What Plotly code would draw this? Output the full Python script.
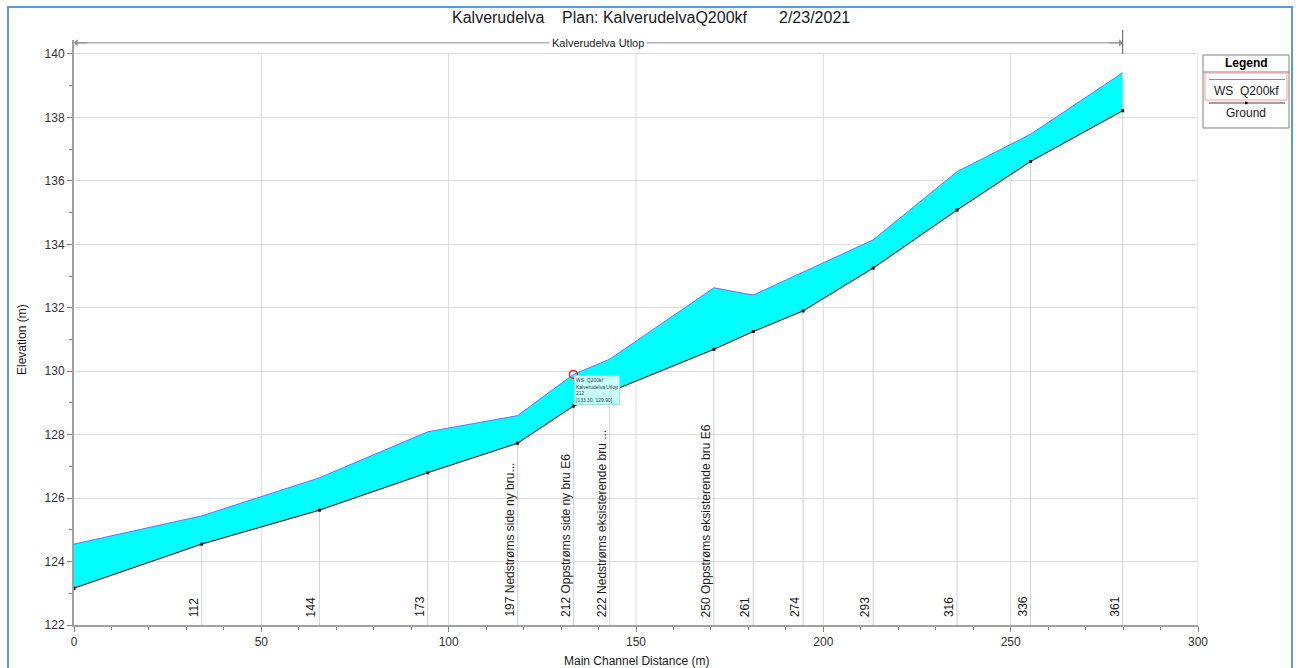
import plotly.graph_objects as go

# ---- data ----
stations = [0.0, 34.1, 65.5, 94.4, 118.4, 133.3, 143.0, 170.8, 181.3, 194.6, 213.3, 235.7, 255.3, 279.9]
section_labels = ["", "112", "144", "173", "197 Nedstrøms side ny bru...", "212 Oppstrøms side ny bru E6",
                  "222 Nedstrøms eksisterende bru ...", "250 Oppstrøms eksisterende bru E6",
                  "261", "274", "293", "316", "336", "361"]
ground = [123.16, 124.55, 125.62, 126.80, 127.73, 128.90, 129.35, 130.69, 131.25, 131.90, 133.25, 135.08, 136.61, 138.21]
ws = [124.55, 125.44, 126.64, 128.09, 128.60, 129.90, 130.38, 132.63, 132.40, 133.12, 134.14, 136.29, 137.47, 139.41]
x_ticks = [0, 50, 100, 150, 200, 250, 300]
y_ticks = [122, 124, 126, 128, 130, 132, 134, 136, 138, 140]
reach_name = "Kalverudelva Utlop"
river = "Kalverudelva"
plan = "Plan: KalverudelvaQ200kf"
date = "2/23/2021"
profile = "WS  Q200kf"
hover_idx = 5

W, H = 1301, 668
L, R, T, B = 74, 103, 40, 43
PW, PH = W - L - R, H - T - B
FONT = "Liberation Sans, Arial, sans-serif"


def px(x):
    return (x - L) / PW


def py(y):
    return (H - B - y) / PH


fig = go.Figure()

# section lines from ground down to axis
sx, sy = [], []
for s, g in zip(stations[1:], ground[1:]):
    sx += [s, s, None]
    sy += [y_ticks[0], g, None]
fig.add_trace(go.Scatter(x=sx, y=sy, mode="lines", line=dict(color="#d2d2d2", width=1),
                         hoverinfo="skip", showlegend=False))

# fill base
fig.add_trace(go.Scatter(x=stations, y=ground, mode="lines", line=dict(width=0),
                         hoverinfo="skip", showlegend=False))
fig.add_trace(go.Scatter(x=stations, y=ws, mode="lines", fill="tonexty", fillcolor="#00ffff",
                         line=dict(color="#7070ff", width=1), name=profile, showlegend=False))
fig.add_trace(go.Scatter(x=stations, y=ground, mode="lines+markers",
                         line=dict(color="#000000", width=1),
                         marker=dict(symbol="square", size=3, color="#000000"),
                         name="Ground", showlegend=False))
# highlighted point
fig.add_trace(go.Scatter(x=[stations[hover_idx]], y=[ws[hover_idx]], mode="markers",
                         marker=dict(symbol="circle-open", size=8, color="#ff2020", line=dict(width=1.5)),
                         showlegend=False, hoverinfo="skip"))

shapes = []
# vertical grid lines (only up to top tick)
for xv in x_ticks[1:]:
    shapes.append(dict(type="line", xref="x", yref="y", x0=xv, x1=xv, y0=y_ticks[0], y1=y_ticks[-1],
                       line=dict(color="#dcdcdc", width=1), layer="below"))

# reach arrow line
y_arrow = y_ticks[-1] + 0.35
shapes.append(dict(type="line", xref="x", yref="y", x0=stations[0], x1=stations[-1], y0=y_arrow, y1=y_arrow,
                   line=dict(color="#8c8c8c", width=1)))
shapes.append(dict(type="line", xref="x", yref="paper", x0=stations[-1], x1=stations[-1], y0=py(54), y1=py(30),
                   line=dict(color="#555555", width=1)))

# outer frame
shapes.append(dict(type="rect", xref="paper", yref="paper", x0=px(8), x1=px(1292), y0=py(672), y1=py(7),
                   line=dict(color="#5b9bd5", width=2), fillcolor="rgba(0,0,0,0)"))

# legend box
shapes.append(dict(type="rect", xref="paper", yref="paper", x0=px(1203), x1=px(1289), y0=py(128), y1=py(55),
                   line=dict(color="#808080", width=1), fillcolor="white"))
shapes.append(dict(type="line", xref="paper", yref="paper", x0=px(1203), x1=px(1289), y0=py(72), y1=py(72),
                   line=dict(color="#808080", width=1)))
shapes.append(dict(type="rect", xref="paper", yref="paper", x0=px(1205), x1=px(1287), y0=py(100), y1=py(73),
                   line=dict(color="#ff9a9a", width=1), fillcolor="rgba(0,0,0,0)"))
shapes.append(dict(type="line", xref="paper", yref="paper", x0=px(1209), x1=px(1285), y0=py(79.5), y1=py(79.5),
                   line=dict(color="#8080ff", width=1)))
shapes.append(dict(type="line", xref="paper", yref="paper", x0=px(1209), x1=px(1285), y0=py(103), y1=py(103),
                   line=dict(color="#404040", width=1)))
shapes.append(dict(type="rect", xref="paper", yref="paper", x0=px(1245), x1=px(1247.5), y0=py(104.2), y1=py(101.7),
                   line=dict(color="#000000", width=0), fillcolor="#000000"))

annotations = []
# title pieces
for txt, xl in [(river, 450), (plan, 560), (date, 777)]:
    annotations.append(dict(text=txt, xref="paper", yref="paper", x=px(xl), y=py(18), xanchor="left",
                            yanchor="middle", showarrow=False, font=dict(size=16, color="#1a1a1a", family=FONT)))

# reach name + arrowheads
annotations.append(dict(text=reach_name, x=(stations[0] + stations[-1]) / 2, y=y_arrow, xref="x", yref="y",
                        xanchor="center", yanchor="middle",
                        showarrow=False, bgcolor="white", borderpad=2,
                        font=dict(size=11, color="#1a1a1a", family=FONT)))
for tip, tail in [(stations[0], stations[0] + 4), (stations[-1], stations[-1] - 4)]:
    annotations.append(dict(text="", x=tip, y=y_arrow, ax=tail, ay=y_arrow, xref="x", yref="y",
                            axref="x", ayref="y", showarrow=True, arrowhead=1, arrowsize=1.2,
                            arrowwidth=1, arrowcolor="#8c8c8c"))

# section labels
for s, lab in zip(stations, section_labels):
    if not lab:
        continue
    annotations.append(dict(text=lab, x=s, y=y_ticks[0], xref="x", yref="y", textangle=-90,
                            xanchor="right", yanchor="bottom", yshift=6, xshift=1, showarrow=False,
                            font=dict(size=12, color="#1a1a1a", family=FONT)))

# tooltip
tip_text = (f"{profile}<br>{reach_name}<br>{section_labels[hover_idx].split()[0]}<br>"
            f"[{stations[hover_idx]:.2f}, {ws[hover_idx]:.2f}]")
annotations.append(dict(text=tip_text, x=stations[hover_idx], y=ws[hover_idx], xref="x", yref="y",
                        xanchor="left", yanchor="top", xshift=1, yshift=-1, showarrow=False, align="left",
                        bgcolor="#c8ffff", bordercolor="#a0e0e0", borderwidth=1, borderpad=1,
                        font=dict(size=5, color="#333333", family=FONT)))

# legend texts
for txt, yc, col in [("<b>Legend</b>", 63, "#000000"),
                     (profile.replace("  ", "&nbsp;&nbsp;"), 91, "#1a1a1a"),
                     ("Ground", 113, "#1a1a1a")]:
    annotations.append(dict(text=txt, xref="paper", yref="paper", x=px(1246), y=py(yc),
                            xanchor="center", yanchor="middle",
                            showarrow=False, font=dict(size=12, color=col, family=FONT)))

# axis titles
annotations.append(dict(text="Elevation (m)", xref="paper", yref="paper", x=px(22), y=py(340),
                        xanchor="center", yanchor="middle",
                        textangle=-90, showarrow=False, font=dict(size=12, color="#1a1a1a", family=FONT)))
annotations.append(dict(text="Main Channel Distance (m)", xref="paper", yref="paper", x=px(636), y=py(661),
                        xanchor="center", yanchor="middle",
                        showarrow=False, font=dict(size=12, color="#1a1a1a", family=FONT)))

fig.update_layout(
    width=W, height=H,
    margin=dict(l=L, r=R, t=T, b=B),
    paper_bgcolor="white", plot_bgcolor="white",
    showlegend=False,
    shapes=shapes, annotations=annotations,
    font=dict(family=FONT, size=12, color="#333333"),
    xaxis=dict(range=[0, 300], tickvals=x_ticks, showgrid=False, zeroline=False,
               showline=True, linecolor="#a0a0a0", linewidth=2, ticks="outside", ticklen=5,
               tickcolor="#808080", tickfont=dict(size=12, color="#333333"),
               minor=dict(dtick=10, ticks="outside", ticklen=3, tickcolor="#808080", showgrid=False)),
    yaxis=dict(range=[122, 140.44], tickvals=y_ticks, showgrid=True, gridcolor="#dcdcdc",
               zeroline=False, showline=True, linecolor="#a0a0a0", linewidth=2, ticks="outside",
               ticklen=5, tickcolor="#808080", tickfont=dict(size=12, color="#333333"),
               minor=dict(dtick=1, ticks="outside", ticklen=3, tickcolor="#808080", showgrid=False)),
)

fig.write_html("out.html", config={"displayModeBar": False},
               post_script="document.body.style.margin='0';")
